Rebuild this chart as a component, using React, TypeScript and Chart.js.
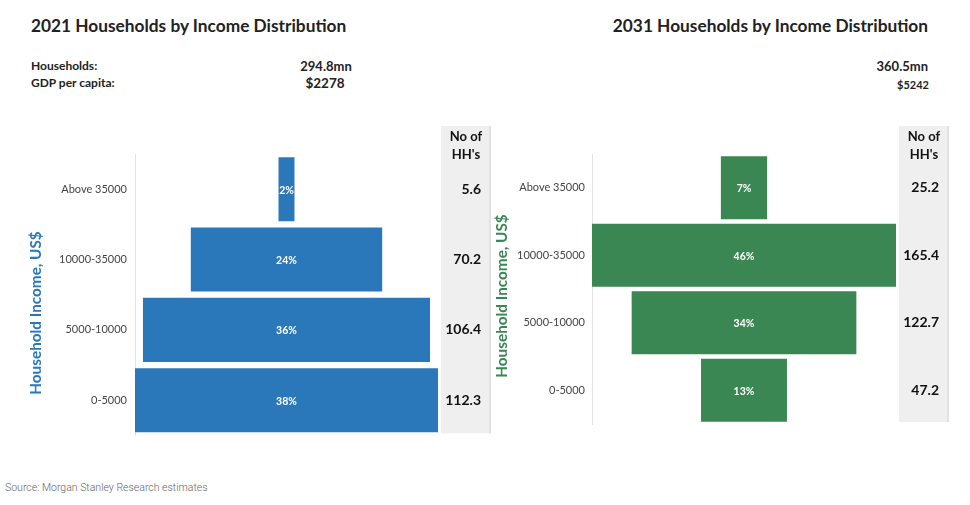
import React, { useEffect, useRef } from "react";
import { Chart, registerables } from "chart.js";

Chart.register(...registerables);

const categories = ["Above 35000", "10000-35000", "5000-10000", "0-5000"];
const share2021 = [2, 24, 36, 38];
const share2031 = [7, 46, 34, 13];
const hh2021 = [5.6, 70.2, 106.4, 112.3];
const hh2031 = [25.2, 165.4, 122.7, 47.2];
const households2021 = "294.8mn";
const households2031 = "360.5mn";
const gdp2021 = "$2278";
const gdp2031 = "$5242";
const axisTitle = "Household Income, US$";

const FONT = "Lato, 'Open Sans', sans-serif";

type PanelProps = {
  shares: number[];
  hh: number[];
  color: string;
  half: number;
  left: number;
  width: number;
  axisWidth: number;
  tickPad: number;
  padRight: number;
  padBottom: number;
  barPct: number;
  titleX: number;
  titleY: number;
};

function Panel(p: PanelProps) {
  const ref = useRef<HTMLCanvasElement | null>(null);
  useEffect(() => {
    if (!ref.current) return;
    const extras = {
      id: "funnelExtras",
      beforeDraw(chart: any) {
        const { ctx, chartArea } = chart;
        ctx.save();
        const x0 = chartArea.right + 3;
        ctx.fillStyle = "#efefef";
        ctx.fillRect(x0, 16, 49, chartArea.bottom - 18);
        ctx.fillStyle = "#e2e2e2";
        ctx.fillRect(x0 + 48, 16, 2, chartArea.bottom - 18);
        ctx.fillStyle = "#111";
        ctx.font = `bold 13px ${FONT}`;
        ctx.textAlign = "center";
        ctx.textBaseline = "middle";
        ctx.fillText("No of", x0 + 25, 27);
        ctx.fillText("HH's", x0 + 25, 45);
        ctx.translate(p.titleX, p.titleY);
        ctx.rotate(-Math.PI / 2);
        ctx.fillStyle = p.color;
        ctx.font = `bold 15.3px ${FONT}`;
        ctx.fillText(axisTitle, 0, 0);
        ctx.restore();
      },
      afterDatasetsDraw(chart: any) {
        const { ctx, chartArea } = chart;
        const ys = chart.scales.y;
        const xs = chart.scales.x;
        ctx.save();
        ctx.textBaseline = "middle";
        p.shares.forEach((v, i) => {
          const y = ys.getPixelForValue(i);
          ctx.fillStyle = "#ffffff";
          ctx.font = `bold 10.5px ${FONT}`;
          ctx.textAlign = "center";
          ctx.fillText(v + "%", xs.getPixelForValue(0), y + 1);
          ctx.fillStyle = "#111";
          ctx.font = `bold 14px ${FONT}`;
          ctx.textAlign = "right";
          ctx.fillText(String(p.hh[i]), chartArea.right + 43, y);
        });
        ctx.restore();
      },
    };
    const chart = new Chart(ref.current, {
      type: "bar",
      data: {
        labels: categories,
        datasets: [
          {
            data: p.shares.map((v) => [-v / 2, v / 2]) as any,
            backgroundColor: p.color,
            borderWidth: 0,
            categoryPercentage: 1,
            barPercentage: p.barPct,
          },
        ],
      },
      options: {
        indexAxis: "y",
        animation: false,
        responsive: false,
        maintainAspectRatio: false,
        layout: { padding: { left: 0, right: p.padRight, top: 44, bottom: p.padBottom } },
        plugins: { legend: { display: false }, tooltip: { enabled: false } },
        scales: {
          x: { display: false, min: -p.half, max: p.half },
          y: {
            grid: { display: false, drawTicks: false },
            border: { display: true, color: "#e3e3e3", width: 1 },
            ticks: { color: "#444", font: { family: FONT, size: 11 }, padding: p.tickPad },
            title: { display: false },
            afterFit: (s: any) => {
              s.width = p.axisWidth;
            },
          },
        },
      },
      plugins: [extras],
    });
    return () => chart.destroy();
  }, []);
  return (
    <canvas
      ref={ref}
      width={p.width}
      height={340}
      style={{ position: "absolute", left: p.left, top: 110, width: p.width, height: 340 }}
    />
  );
}

const txt = (style: React.CSSProperties, s: string) => (
  <div style={{ position: "absolute", whiteSpace: "nowrap", fontFamily: FONT, color: "#222", ...style }}>{s}</div>
);

export default function App() {
  useEffect(() => {
    document.body.style.margin = "0";
  }, []);
  return (
    <div style={{ position: "relative", width: 970, height: 505, background: "#fff", overflow: "hidden" }}>
      {txt({ left: 31, top: 15, fontSize: 17.3, fontWeight: 700 }, "2021 Households by Income Distribution")}
      {txt({ right: 42, top: 15, fontSize: 17.3, fontWeight: 700 }, "2031 Households by Income Distribution")}
      {txt({ left: 31, top: 58, fontSize: 12, fontWeight: 700 }, "Households:")}
      {txt({ left: 31, top: 75, fontSize: 12, fontWeight: 700 }, "GDP per capita:")}
      {txt({ left: 326, top: 58, fontSize: 13, fontWeight: 700, transform: "translateX(-50%)" }, households2021)}
      {txt({ left: 325, top: 75, fontSize: 13.5, fontWeight: 700, transform: "translateX(-50%)" }, gdp2021)}
      {txt({ right: 42, top: 58, fontSize: 13, fontWeight: 700 }, households2031)}
      {txt({ right: 41, top: 78, fontSize: 11, fontWeight: 700 }, gdp2031)}
      <Panel shares={share2021} hh={hh2021} color="#2a78b9" half={19} left={0} width={495}
        axisWidth={135} tickPad={8} padRight={57} padBottom={14} barPct={0.91}
        titleX={36} titleY={203} />
      <Panel shares={share2031} hh={hh2031} color="#3a8753" half={23} left={485} width={485}
        axisWidth={107} tickPad={7} padRight={74} padBottom={26} barPct={0.93}
        titleX={17} titleY={186} />
      {txt({ left: 5, top: 481, fontSize: 10.5, color: "#666", fontFamily: "Roboto, sans-serif", fontWeight: 300 }, "Source: Morgan Stanley Research estimates")}
    </div>
  );
}
